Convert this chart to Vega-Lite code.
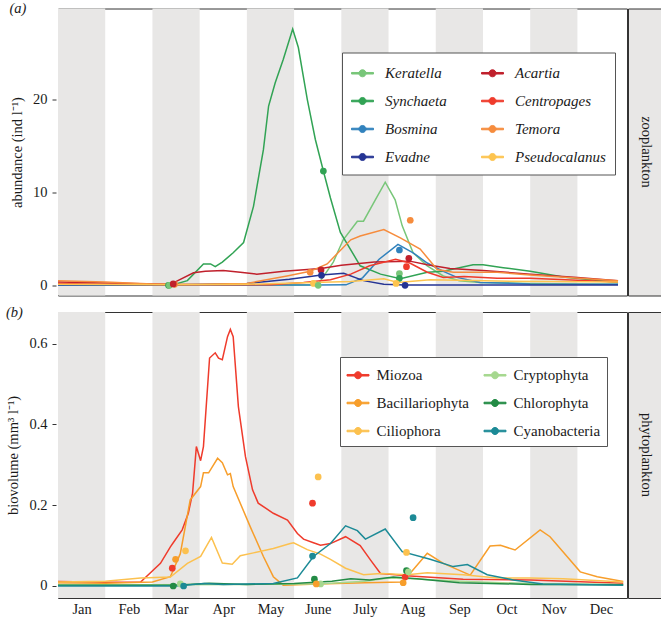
{
  "$schema": "https://vega.github.io/schema/vega-lite/v6.json",
  "padding": {"left": 5, "top": 0.5, "right": 0, "bottom": 0},
  "background": "white",
  "config": {
    "font": "Liberation Serif",
    "view": {"stroke": "#333333", "strokeWidth": 1},
    "axis": {"labelFont": "Liberation Serif", "titleFont": "Liberation Serif", "labelFontSize": 14.5, "titleFontSize": 14.5, "titleFontWeight": "normal", "labelColor": "#1a1a1a", "titleColor": "#1a1a1a", "grid": false, "domain": false, "tickColor": "#333333", "tickSize": 4},
    "legend": {"orient": "none", "title": null, "columns": 2, "strokeColor": "#555555", "fillColor": "white", "symbolType": "M-1,-0.07H-0.3V0.07H-1Z M0.3,-0.07H1V0.07H0.3Z M0.32,0A0.32,0.32,0,1,1,-0.32,0A0.32,0.32,0,1,1,0.32,0Z", "symbolSize": 484, "symbolStrokeWidth": 1, "labelFont": "Liberation Serif", "labelFontSize": 15, "labelColor": "#1a1a1a", "rowPadding": 8},
    "title": {"anchor": "start", "frame": "bounds", "font": "Liberation Serif", "fontStyle": "italic", "fontWeight": "normal", "fontSize": 14.5, "color": "#1a1a1a", "offset": -8}
  },
  "datasets": {
    "bands": [{"start": 0, "end": 1}, {"start": 2, "end": 3}, {"start": 4, "end": 5}, {"start": 6, "end": 7}, {"start": 8, "end": 9}, {"start": 10, "end": 11}],
    "zooLines": [
      {"taxon": "Keratella", "month": 0, "value": 0.05}, {"taxon": "Keratella", "month": 1, "value": 0.04}, {"taxon": "Keratella", "month": 2, "value": 0.03}, {"taxon": "Keratella", "month": 3, "value": 0.02}, {"taxon": "Keratella", "month": 4, "value": 0.02}, {"taxon": "Keratella", "month": 5, "value": 0.03}, {"taxon": "Keratella", "month": 5.5, "value": 0.05}, {"taxon": "Keratella", "month": 5.83, "value": 2.5}, {"taxon": "Keratella", "month": 6.04, "value": 4.9}, {"taxon": "Keratella", "month": 6.34, "value": 6.9}, {"taxon": "Keratella", "month": 6.47, "value": 6.9}, {"taxon": "Keratella", "month": 6.72, "value": 9.2}, {"taxon": "Keratella", "month": 6.93, "value": 11.1}, {"taxon": "Keratella", "month": 7.14, "value": 9.2}, {"taxon": "Keratella", "month": 7.29, "value": 6.4}, {"taxon": "Keratella", "month": 7.52, "value": 3.5}, {"taxon": "Keratella", "month": 7.82, "value": 2.1}, {"taxon": "Keratella", "month": 8.16, "value": 1.0}, {"taxon": "Keratella", "month": 8.5, "value": 0.5}, {"taxon": "Keratella", "month": 8.94, "value": 0.3}, {"taxon": "Keratella", "month": 10, "value": 0.2}, {"taxon": "Keratella", "month": 11, "value": 0.15}, {"taxon": "Keratella", "month": 11.86, "value": 0.1},
      {"taxon": "Synchaeta", "month": 0, "value": 0.1}, {"taxon": "Synchaeta", "month": 1, "value": 0.08}, {"taxon": "Synchaeta", "month": 2, "value": 0.05}, {"taxon": "Synchaeta", "month": 2.44, "value": 0.05}, {"taxon": "Synchaeta", "month": 2.74, "value": 0.5}, {"taxon": "Synchaeta", "month": 3.08, "value": 2.3}, {"taxon": "Synchaeta", "month": 3.23, "value": 2.3}, {"taxon": "Synchaeta", "month": 3.33, "value": 2.0}, {"taxon": "Synchaeta", "month": 3.48, "value": 2.5}, {"taxon": "Synchaeta", "month": 3.71, "value": 3.5}, {"taxon": "Synchaeta", "month": 3.93, "value": 4.6}, {"taxon": "Synchaeta", "month": 4.14, "value": 8.5}, {"taxon": "Synchaeta", "month": 4.35, "value": 14.6}, {"taxon": "Synchaeta", "month": 4.46, "value": 19.3}, {"taxon": "Synchaeta", "month": 4.6, "value": 21.8}, {"taxon": "Synchaeta", "month": 4.77, "value": 24.3}, {"taxon": "Synchaeta", "month": 4.97, "value": 27.6}, {"taxon": "Synchaeta", "month": 5.09, "value": 25.6}, {"taxon": "Synchaeta", "month": 5.28, "value": 20}, {"taxon": "Synchaeta", "month": 5.45, "value": 15.7}, {"taxon": "Synchaeta", "month": 5.62, "value": 12.3}, {"taxon": "Synchaeta", "month": 5.77, "value": 9.4}, {"taxon": "Synchaeta", "month": 5.98, "value": 5.7}, {"taxon": "Synchaeta", "month": 6.4, "value": 2.1}, {"taxon": "Synchaeta", "month": 6.83, "value": 1.2}, {"taxon": "Synchaeta", "month": 7.25, "value": 0.7}, {"taxon": "Synchaeta", "month": 7.82, "value": 1.4}, {"taxon": "Synchaeta", "month": 8.16, "value": 1.5}, {"taxon": "Synchaeta", "month": 8.79, "value": 2.2}, {"taxon": "Synchaeta", "month": 9.0, "value": 2.2}, {"taxon": "Synchaeta", "month": 9.43, "value": 1.9}, {"taxon": "Synchaeta", "month": 10.0, "value": 1.5}, {"taxon": "Synchaeta", "month": 10.7, "value": 0.9}, {"taxon": "Synchaeta", "month": 11.86, "value": 0.3},
      {"taxon": "Bosmina", "month": 0, "value": 0.02}, {"taxon": "Bosmina", "month": 3, "value": 0.02}, {"taxon": "Bosmina", "month": 5.5, "value": 0.03}, {"taxon": "Bosmina", "month": 6.1, "value": 0.05}, {"taxon": "Bosmina", "month": 6.45, "value": 0.8}, {"taxon": "Bosmina", "month": 6.8, "value": 2.8}, {"taxon": "Bosmina", "month": 7.2, "value": 4.4}, {"taxon": "Bosmina", "month": 7.52, "value": 3.5}, {"taxon": "Bosmina", "month": 7.82, "value": 2.4}, {"taxon": "Bosmina", "month": 8.16, "value": 1.5}, {"taxon": "Bosmina", "month": 8.45, "value": 0.85}, {"taxon": "Bosmina", "month": 8.94, "value": 0.3}, {"taxon": "Bosmina", "month": 10, "value": 0.15}, {"taxon": "Bosmina", "month": 11.86, "value": 0.1},
      {"taxon": "Evadne", "month": 0, "value": 0.05}, {"taxon": "Evadne", "month": 2.5, "value": 0.05}, {"taxon": "Evadne", "month": 4.0, "value": 0.2}, {"taxon": "Evadne", "month": 4.9, "value": 0.65}, {"taxon": "Evadne", "month": 5.58, "value": 1.1}, {"taxon": "Evadne", "month": 6.05, "value": 1.3}, {"taxon": "Evadne", "month": 6.47, "value": 0.5}, {"taxon": "Evadne", "month": 6.9, "value": 0.1}, {"taxon": "Evadne", "month": 7.35, "value": 0.02}, {"taxon": "Evadne", "month": 9, "value": 0.02}, {"taxon": "Evadne", "month": 11.86, "value": 0.02},
      {"taxon": "Acartia", "month": 0, "value": 0.35}, {"taxon": "Acartia", "month": 1, "value": 0.25}, {"taxon": "Acartia", "month": 2, "value": 0.15}, {"taxon": "Acartia", "month": 2.38, "value": 0.1}, {"taxon": "Acartia", "month": 2.87, "value": 1.35}, {"taxon": "Acartia", "month": 3.12, "value": 1.5}, {"taxon": "Acartia", "month": 3.5, "value": 1.6}, {"taxon": "Acartia", "month": 3.86, "value": 1.4}, {"taxon": "Acartia", "month": 4.21, "value": 1.2}, {"taxon": "Acartia", "month": 4.78, "value": 1.5}, {"taxon": "Acartia", "month": 5.57, "value": 1.8}, {"taxon": "Acartia", "month": 6.0, "value": 2.15}, {"taxon": "Acartia", "month": 6.7, "value": 2.5}, {"taxon": "Acartia", "month": 7.45, "value": 2.6}, {"taxon": "Acartia", "month": 7.82, "value": 2.2}, {"taxon": "Acartia", "month": 8.3, "value": 1.8}, {"taxon": "Acartia", "month": 9.0, "value": 1.6}, {"taxon": "Acartia", "month": 10, "value": 1.2}, {"taxon": "Acartia", "month": 11, "value": 0.85}, {"taxon": "Acartia", "month": 11.86, "value": 0.5},
      {"taxon": "Centropages", "month": 0, "value": 0.2}, {"taxon": "Centropages", "month": 1, "value": 0.12}, {"taxon": "Centropages", "month": 2.44, "value": 0.05}, {"taxon": "Centropages", "month": 4.5, "value": 0.05}, {"taxon": "Centropages", "month": 5.2, "value": 0.3}, {"taxon": "Centropages", "month": 5.77, "value": 0.6}, {"taxon": "Centropages", "month": 6.2, "value": 1.2}, {"taxon": "Centropages", "month": 6.6, "value": 2.1}, {"taxon": "Centropages", "month": 7.15, "value": 2.8}, {"taxon": "Centropages", "month": 7.45, "value": 2.4}, {"taxon": "Centropages", "month": 7.82, "value": 1.4}, {"taxon": "Centropages", "month": 8.16, "value": 0.85}, {"taxon": "Centropages", "month": 8.6, "value": 0.95}, {"taxon": "Centropages", "month": 9.3, "value": 0.75}, {"taxon": "Centropages", "month": 10, "value": 0.75}, {"taxon": "Centropages", "month": 11.86, "value": 0.35},
      {"taxon": "Temora", "month": 0, "value": 0.5}, {"taxon": "Temora", "month": 1, "value": 0.35}, {"taxon": "Temora", "month": 2, "value": 0.15}, {"taxon": "Temora", "month": 2.44, "value": 0.1}, {"taxon": "Temora", "month": 3, "value": 0.1}, {"taxon": "Temora", "month": 4, "value": 0.2}, {"taxon": "Temora", "month": 4.85, "value": 1.0}, {"taxon": "Temora", "month": 5.34, "value": 1.5}, {"taxon": "Temora", "month": 5.7, "value": 2.3}, {"taxon": "Temora", "month": 6.2, "value": 4.9}, {"taxon": "Temora", "month": 6.4, "value": 5.3}, {"taxon": "Temora", "month": 6.9, "value": 6.0}, {"taxon": "Temora", "month": 7.25, "value": 5.1}, {"taxon": "Temora", "month": 7.67, "value": 3.9}, {"taxon": "Temora", "month": 8.03, "value": 1.7}, {"taxon": "Temora", "month": 8.37, "value": 1.4}, {"taxon": "Temora", "month": 9.3, "value": 1.4}, {"taxon": "Temora", "month": 10, "value": 1.1}, {"taxon": "Temora", "month": 11.86, "value": 0.5},
      {"taxon": "Pseudocalanus", "month": 0, "value": 0.1}, {"taxon": "Pseudocalanus", "month": 2.5, "value": 0.05}, {"taxon": "Pseudocalanus", "month": 4, "value": 0.1}, {"taxon": "Pseudocalanus", "month": 5.4, "value": 0.3}, {"taxon": "Pseudocalanus", "month": 6.2, "value": 0.4}, {"taxon": "Pseudocalanus", "month": 6.9, "value": 0.7}, {"taxon": "Pseudocalanus", "month": 7.2, "value": 0.3}, {"taxon": "Pseudocalanus", "month": 7.88, "value": 0.6}, {"taxon": "Pseudocalanus", "month": 9.3, "value": 0.45}, {"taxon": "Pseudocalanus", "month": 11.86, "value": 0.35}
    ],
    "zooPoints": [
      {"taxon": "Synchaeta", "month": 2.34, "value": 0.0}, {"taxon": "Keratella", "month": 2.36, "value": 0.0}, {"taxon": "Temora", "month": 2.47, "value": 0.1}, {"taxon": "Acartia", "month": 2.44, "value": 0.15},
      {"taxon": "Temora", "month": 5.34, "value": 1.4}, {"taxon": "Acartia", "month": 5.57, "value": 1.65}, {"taxon": "Evadne", "month": 5.58, "value": 1.07}, {"taxon": "Pseudocalanus", "month": 5.41, "value": 0.2}, {"taxon": "Keratella", "month": 5.51, "value": 0.0}, {"taxon": "Synchaeta", "month": 5.62, "value": 12.3},
      {"taxon": "Bosmina", "month": 7.23, "value": 3.8}, {"taxon": "Acartia", "month": 7.43, "value": 2.9}, {"taxon": "Centropages", "month": 7.38, "value": 2.0}, {"taxon": "Keratella", "month": 7.23, "value": 1.26}, {"taxon": "Synchaeta", "month": 7.23, "value": 0.75}, {"taxon": "Pseudocalanus", "month": 7.16, "value": 0.2}, {"taxon": "Evadne", "month": 7.35, "value": 0.0}, {"taxon": "Temora", "month": 7.46, "value": 7.0}
    ],
    "phytoLines": [
      {"taxon": "Miozoa", "month": 0, "value": 0.011}, {"taxon": "Miozoa", "month": 1, "value": 0.009}, {"taxon": "Miozoa", "month": 1.75, "value": 0.01}, {"taxon": "Miozoa", "month": 2.17, "value": 0.056}, {"taxon": "Miozoa", "month": 2.38, "value": 0.097}, {"taxon": "Miozoa", "month": 2.44, "value": 0.107}, {"taxon": "Miozoa", "month": 2.63, "value": 0.139}, {"taxon": "Miozoa", "month": 2.76, "value": 0.18}, {"taxon": "Miozoa", "month": 2.85, "value": 0.23}, {"taxon": "Miozoa", "month": 2.93, "value": 0.345}, {"taxon": "Miozoa", "month": 3.02, "value": 0.31}, {"taxon": "Miozoa", "month": 3.08, "value": 0.345}, {"taxon": "Miozoa", "month": 3.21, "value": 0.564}, {"taxon": "Miozoa", "month": 3.33, "value": 0.577}, {"taxon": "Miozoa", "month": 3.4, "value": 0.564}, {"taxon": "Miozoa", "month": 3.48, "value": 0.56}, {"taxon": "Miozoa", "month": 3.59, "value": 0.617}, {"taxon": "Miozoa", "month": 3.65, "value": 0.635}, {"taxon": "Miozoa", "month": 3.71, "value": 0.617}, {"taxon": "Miozoa", "month": 3.82, "value": 0.444}, {"taxon": "Miozoa", "month": 3.97, "value": 0.32}, {"taxon": "Miozoa", "month": 4.12, "value": 0.238}, {"taxon": "Miozoa", "month": 4.24, "value": 0.205}, {"taxon": "Miozoa", "month": 4.56, "value": 0.18}, {"taxon": "Miozoa", "month": 4.86, "value": 0.163}, {"taxon": "Miozoa", "month": 5.07, "value": 0.13}, {"taxon": "Miozoa", "month": 5.2, "value": 0.116}, {"taxon": "Miozoa", "month": 5.41, "value": 0.107}, {"taxon": "Miozoa", "month": 5.56, "value": 0.101}, {"taxon": "Miozoa", "month": 5.77, "value": 0.105}, {"taxon": "Miozoa", "month": 6.09, "value": 0.122}, {"taxon": "Miozoa", "month": 6.4, "value": 0.1}, {"taxon": "Miozoa", "month": 6.62, "value": 0.064}, {"taxon": "Miozoa", "month": 6.83, "value": 0.031}, {"taxon": "Miozoa", "month": 7.46, "value": 0.025}, {"taxon": "Miozoa", "month": 8.58, "value": 0.017}, {"taxon": "Miozoa", "month": 10, "value": 0.015}, {"taxon": "Miozoa", "month": 11.97, "value": 0.007},
      {"taxon": "Bacillariophyta", "month": 0, "value": 0.008}, {"taxon": "Bacillariophyta", "month": 1, "value": 0.007}, {"taxon": "Bacillariophyta", "month": 2, "value": 0.01}, {"taxon": "Bacillariophyta", "month": 2.38, "value": 0.023}, {"taxon": "Bacillariophyta", "month": 2.59, "value": 0.08}, {"taxon": "Bacillariophyta", "month": 2.8, "value": 0.213}, {"taxon": "Bacillariophyta", "month": 3.02, "value": 0.246}, {"taxon": "Bacillariophyta", "month": 3.08, "value": 0.28}, {"taxon": "Bacillariophyta", "month": 3.19, "value": 0.28}, {"taxon": "Bacillariophyta", "month": 3.38, "value": 0.316}, {"taxon": "Bacillariophyta", "month": 3.48, "value": 0.305}, {"taxon": "Bacillariophyta", "month": 3.59, "value": 0.275}, {"taxon": "Bacillariophyta", "month": 3.65, "value": 0.278}, {"taxon": "Bacillariophyta", "month": 3.71, "value": 0.246}, {"taxon": "Bacillariophyta", "month": 4.07, "value": 0.147}, {"taxon": "Bacillariophyta", "month": 4.35, "value": 0.073}, {"taxon": "Bacillariophyta", "month": 4.56, "value": 0.023}, {"taxon": "Bacillariophyta", "month": 4.77, "value": 0.002}, {"taxon": "Bacillariophyta", "month": 5.5, "value": 0.005}, {"taxon": "Bacillariophyta", "month": 6.5, "value": 0.008}, {"taxon": "Bacillariophyta", "month": 7.3, "value": 0.01}, {"taxon": "Bacillariophyta", "month": 7.82, "value": 0.081}, {"taxon": "Bacillariophyta", "month": 8.16, "value": 0.056}, {"taxon": "Bacillariophyta", "month": 8.73, "value": 0.027}, {"taxon": "Bacillariophyta", "month": 9.15, "value": 0.099}, {"taxon": "Bacillariophyta", "month": 9.37, "value": 0.101}, {"taxon": "Bacillariophyta", "month": 9.68, "value": 0.089}, {"taxon": "Bacillariophyta", "month": 10.21, "value": 0.139}, {"taxon": "Bacillariophyta", "month": 10.42, "value": 0.122}, {"taxon": "Bacillariophyta", "month": 11.06, "value": 0.035}, {"taxon": "Bacillariophyta", "month": 11.42, "value": 0.023}, {"taxon": "Bacillariophyta", "month": 11.97, "value": 0.011},
      {"taxon": "Ciliophora", "month": 0, "value": 0.01}, {"taxon": "Ciliophora", "month": 1, "value": 0.012}, {"taxon": "Ciliophora", "month": 1.75, "value": 0.02}, {"taxon": "Ciliophora", "month": 2.38, "value": 0.022}, {"taxon": "Ciliophora", "month": 2.74, "value": 0.056}, {"taxon": "Ciliophora", "month": 3.02, "value": 0.073}, {"taxon": "Ciliophora", "month": 3.25, "value": 0.12}, {"taxon": "Ciliophora", "month": 3.48, "value": 0.057}, {"taxon": "Ciliophora", "month": 3.69, "value": 0.054}, {"taxon": "Ciliophora", "month": 3.86, "value": 0.075}, {"taxon": "Ciliophora", "month": 4.14, "value": 0.082}, {"taxon": "Ciliophora", "month": 4.56, "value": 0.093}, {"taxon": "Ciliophora", "month": 4.92, "value": 0.105}, {"taxon": "Ciliophora", "month": 4.99, "value": 0.107}, {"taxon": "Ciliophora", "month": 5.28, "value": 0.09}, {"taxon": "Ciliophora", "month": 5.56, "value": 0.079}, {"taxon": "Ciliophora", "month": 5.77, "value": 0.066}, {"taxon": "Ciliophora", "month": 6.09, "value": 0.044}, {"taxon": "Ciliophora", "month": 6.47, "value": 0.028}, {"taxon": "Ciliophora", "month": 6.83, "value": 0.031}, {"taxon": "Ciliophora", "month": 7.4, "value": 0.028}, {"taxon": "Ciliophora", "month": 7.82, "value": 0.033}, {"taxon": "Ciliophora", "month": 8.58, "value": 0.028}, {"taxon": "Ciliophora", "month": 9.3, "value": 0.02}, {"taxon": "Ciliophora", "month": 10, "value": 0.02}, {"taxon": "Ciliophora", "month": 10.7, "value": 0.018}, {"taxon": "Ciliophora", "month": 11.97, "value": 0.01},
      {"taxon": "Cryptophyta", "month": 0, "value": 0.003}, {"taxon": "Cryptophyta", "month": 2, "value": 0.003}, {"taxon": "Cryptophyta", "month": 4, "value": 0.004}, {"taxon": "Cryptophyta", "month": 5.5, "value": 0.005}, {"taxon": "Cryptophyta", "month": 6.5, "value": 0.012}, {"taxon": "Cryptophyta", "month": 7.0, "value": 0.02}, {"taxon": "Cryptophyta", "month": 7.5, "value": 0.018}, {"taxon": "Cryptophyta", "month": 8.5, "value": 0.012}, {"taxon": "Cryptophyta", "month": 10, "value": 0.006}, {"taxon": "Cryptophyta", "month": 11.97, "value": 0.004},
      {"taxon": "Chlorophyta", "month": 0, "value": 0.002}, {"taxon": "Chlorophyta", "month": 2.5, "value": 0.002}, {"taxon": "Chlorophyta", "month": 3.2, "value": 0.007}, {"taxon": "Chlorophyta", "month": 4, "value": 0.004}, {"taxon": "Chlorophyta", "month": 5, "value": 0.006}, {"taxon": "Chlorophyta", "month": 5.8, "value": 0.012}, {"taxon": "Chlorophyta", "month": 6.2, "value": 0.018}, {"taxon": "Chlorophyta", "month": 6.6, "value": 0.015}, {"taxon": "Chlorophyta", "month": 7.1, "value": 0.022}, {"taxon": "Chlorophyta", "month": 7.6, "value": 0.018}, {"taxon": "Chlorophyta", "month": 8.5, "value": 0.008}, {"taxon": "Chlorophyta", "month": 10, "value": 0.004}, {"taxon": "Chlorophyta", "month": 11.97, "value": 0.003},
      {"taxon": "Cyanobacteria", "month": 0, "value": 0.0}, {"taxon": "Cyanobacteria", "month": 2.5, "value": 0.0}, {"taxon": "Cyanobacteria", "month": 3.1, "value": 0.006}, {"taxon": "Cyanobacteria", "month": 3.5, "value": 0.004}, {"taxon": "Cyanobacteria", "month": 4.56, "value": 0.006}, {"taxon": "Cyanobacteria", "month": 5.07, "value": 0.02}, {"taxon": "Cyanobacteria", "month": 5.41, "value": 0.073}, {"taxon": "Cyanobacteria", "month": 5.77, "value": 0.105}, {"taxon": "Cyanobacteria", "month": 6.09, "value": 0.149}, {"taxon": "Cyanobacteria", "month": 6.34, "value": 0.137}, {"taxon": "Cyanobacteria", "month": 6.51, "value": 0.116}, {"taxon": "Cyanobacteria", "month": 6.93, "value": 0.141}, {"taxon": "Cyanobacteria", "month": 7.29, "value": 0.085}, {"taxon": "Cyanobacteria", "month": 7.88, "value": 0.066}, {"taxon": "Cyanobacteria", "month": 8.37, "value": 0.048}, {"taxon": "Cyanobacteria", "month": 8.67, "value": 0.053}, {"taxon": "Cyanobacteria", "month": 9.09, "value": 0.028}, {"taxon": "Cyanobacteria", "month": 9.64, "value": 0.015}, {"taxon": "Cyanobacteria", "month": 10.27, "value": 0.005}, {"taxon": "Cyanobacteria", "month": 11.97, "value": 0.002}
    ],
    "phytoPoints": [
      {"taxon": "Miozoa", "month": 2.42, "value": 0.044}, {"taxon": "Bacillariophyta", "month": 2.49, "value": 0.066}, {"taxon": "Ciliophora", "month": 2.7, "value": 0.087}, {"taxon": "Chlorophyta", "month": 2.44, "value": 0.0}, {"taxon": "Cryptophyta", "month": 2.59, "value": 0.005}, {"taxon": "Cyanobacteria", "month": 2.66, "value": 0.0},
      {"taxon": "Miozoa", "month": 5.39, "value": 0.205}, {"taxon": "Ciliophora", "month": 5.51, "value": 0.27}, {"taxon": "Cyanobacteria", "month": 5.39, "value": 0.074}, {"taxon": "Chlorophyta", "month": 5.43, "value": 0.017}, {"taxon": "Cryptophyta", "month": 5.56, "value": 0.005}, {"taxon": "Bacillariophyta", "month": 5.47, "value": 0.005},
      {"taxon": "Ciliophora", "month": 7.38, "value": 0.083}, {"taxon": "Miozoa", "month": 7.35, "value": 0.022}, {"taxon": "Bacillariophyta", "month": 7.31, "value": 0.008}, {"taxon": "Chlorophyta", "month": 7.38, "value": 0.038}, {"taxon": "Cryptophyta", "month": 7.42, "value": 0.035}, {"taxon": "Cyanobacteria", "month": 7.52, "value": 0.169}
    ]
  },
  "columns": 2,
  "align": "each",
  "spacing": {"row": 7.5, "column": -2},
  "resolve": {"scale": {"color": "independent", "x": "independent", "y": "independent"}, "legend": {"color": "independent"}},
  "concat": [
    {
      "width": 569, "height": 287,
      "title": {"text": "(a)"},
      "layer": [
        {"data": {"name": "bands"}, "mark": {"type": "rect", "color": "#e8e7e6"}, "encoding": {"x": {"field": "start", "type": "quantitative", "scale": {"domain": [0, 12.05], "nice": false, "zero": false}, "axis": null}, "x2": {"field": "end"}}},
        {"data": {"name": "zooLines"}, "mark": {"type": "line", "strokeWidth": 1.5},
         "encoding": {
          "x": {"field": "month", "type": "quantitative", "axis": null},
          "y": {"field": "value", "type": "quantitative", "scale": {"domain": [-1.1, 29.8], "nice": false, "zero": false}, "axis": {"title": "abundance (ind l⁻¹)", "values": [0, 10, 20], "offset": 2, "labelPadding": 5, "titlePadding": 8}},
          "color": {"field": "taxon", "type": "nominal", "scale": {"domain": ["Keratella", "Synchaeta", "Bosmina", "Evadne", "Acartia", "Centropages", "Temora", "Pseudocalanus"], "range": ["#78c679", "#31a354", "#3182bd", "#253494", "#c0202c", "#ef3b2c", "#f68c3d", "#fdc44f"]},
            "legend": {"legendX": 284, "legendY": 44, "columnPadding": 32, "labelOffset": 11, "labelFontStyle": "italic", "padding": 9}}
         }},
        {"data": {"name": "zooPoints"}, "mark": {"type": "point", "filled": true, "size": 45, "opacity": 1},
         "encoding": {
          "x": {"field": "month", "type": "quantitative", "axis": null},
          "y": {"field": "value", "type": "quantitative", "axis": {"title": "abundance (ind l⁻¹)", "values": [0, 10, 20], "offset": 2, "labelPadding": 5, "titlePadding": 8}},
          "color": {"field": "taxon", "type": "nominal"}
         }}
      ]
    },
    {
      "width": 36, "height": 287,
      "view": {"fill": "#e8e7e6", "stroke": "#333333"},
      "data": {"values": [{"lab": "zooplankton"}]},
      "mark": {"type": "text", "angle": 90, "font": "Liberation Serif", "fontSize": 14.5, "color": "#1a1a1a"},
      "encoding": {"text": {"field": "lab", "type": "nominal"}}
    },
    {
      "width": 569, "height": 286,
      "title": {"text": "(b)"},
      "layer": [
        {"data": {"name": "bands"}, "mark": {"type": "rect", "color": "#e8e7e6"}, "encoding": {"x": {"field": "start", "type": "quantitative", "scale": {"domain": [0, 12.05], "nice": false, "zero": false}, "axis": {"title": null, "values": [0.5, 1.5, 2.5, 3.5, 4.5, 5.5, 6.5, 7.5, 8.5, 9.5, 10.5, 11.5], "labelExpr": "['Jan','Feb','Mar','Apr','May','June','July','Aug','Sep','Oct','Nov','Dec'][floor(datum.value)]", "ticks": false, "labelPadding": 4, "labelFlush": false}}, "x2": {"field": "end"}}},
        {"data": {"name": "phytoLines"}, "mark": {"type": "line", "strokeWidth": 1.5},
         "encoding": {
          "x": {"field": "month", "type": "quantitative"},
          "y": {"field": "value", "type": "quantitative", "scale": {"domain": [-0.0297, 0.678], "nice": false, "zero": false}, "axis": {"title": "biovolume (mm³ l⁻¹)", "values": [0, 0.2, 0.4, 0.6], "format": ".1~f", "offset": 2, "labelPadding": 5, "titlePadding": 8}},
          "color": {"field": "taxon", "type": "nominal", "scale": {"domain": ["Miozoa", "Bacillariophyta", "Ciliophora", "Cryptophyta", "Chlorophyta", "Cyanobacteria"], "range": ["#ef3b2c", "#f79e2b", "#fcc14f", "#a6d88f", "#238b45", "#1c8a96"]},
            "legend": {"legendX": 282, "legendY": 45, "columnPadding": 12, "labelOffset": 7, "padding": 6.5}}
         }},
        {"data": {"name": "phytoPoints"}, "mark": {"type": "point", "filled": true, "size": 45, "opacity": 1},
         "encoding": {
          "x": {"field": "month", "type": "quantitative"},
          "y": {"field": "value", "type": "quantitative", "axis": {"title": "biovolume (mm³ l⁻¹)", "values": [0, 0.2, 0.4, 0.6], "format": ".1~f", "offset": 2, "labelPadding": 5, "titlePadding": 8}},
          "color": {"field": "taxon", "type": "nominal"}
         }}
      ]
    },
    {
      "width": 36, "height": 286,
      "view": {"fill": "#e8e7e6", "stroke": "#333333"},
      "data": {"values": [{"lab": "phytoplankton"}]},
      "mark": {"type": "text", "angle": 90, "font": "Liberation Serif", "fontSize": 14.5, "color": "#1a1a1a"},
      "encoding": {"text": {"field": "lab", "type": "nominal"}}
    }
  ]
}
